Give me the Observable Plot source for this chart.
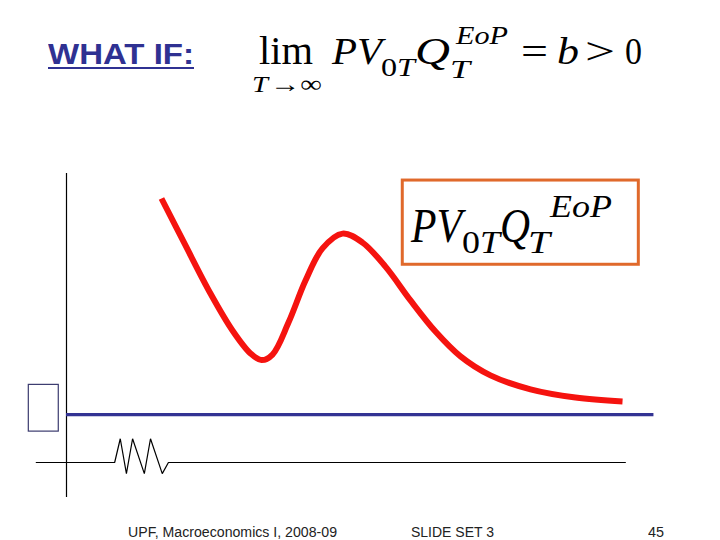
<!DOCTYPE html>
<html><head><meta charset="utf-8">
<script src="https://cdn.jsdelivr.net/npm/d3@7"></script>
<script src="https://cdn.jsdelivr.net/npm/@observablehq/plot@0.6"></script>
<style>
body{margin:0;background:#fff;}
#page{position:relative;width:720px;height:540px;overflow:hidden;background:#fff;}
#head{height:110px;}
#foot{height:30px;}
.t{position:absolute;white-space:nowrap;transform-origin:0 0;line-height:1.2;}
.serif{font-family:"Liberation Serif","DejaVu Serif",serif;color:#000;}
.sans{font-family:"Liberation Sans",Arial,sans-serif;}
.mk{display:inline-block;width:0;height:0;vertical-align:baseline;}
</style></head>
<body>
<div id="page"><div id="head"></div><div id="chart"></div><div id="foot"></div></div>
<script>
// ---- data ----
// red curve PV_0T * Q_T^EoP as a function of T
const curveT = [16.96, 21.25, 25.71, 29.64, 32.86, 34.82, 36.79, 39.64, 42.68, 45.71, 49.29, 52.86, 56.96, 61.43, 65.89, 70.36, 75.71, 82.86, 90.89, 99.29];
const curveV = [100.0, 82.2, 64.0, 50.0, 41.3, 38.8, 40.9, 53.0, 68.9, 81.1, 86.7, 83.3, 74.2, 61.4, 49.6, 40.2, 33.0, 27.7, 24.6, 23.1];
// horizontal level b (blue line)
const bLevel = 18.1;
const bRangeT = [0, 104.9];
// horizontal axis with broken-axis zigzag
const axisT = [-5.4, 8.6, 9.6, 10.7, 11.8, 13.9, 15.0, 17.1, 18.2, 99.8];
const axisV = [0, 0, 9.0, -4.2, 9.0, -4.2, 9.0, -4.2, 0, 0];
// vertical axis extent
const vAxisV = [-13.3, 109.5];
// small box on the left of the axis
const smallBoxT = [-6.73, -1.38];
const smallBoxV = [11.7, 29.4];
// label box around the formula
const labelBoxT = [60.05, 102.2];
const labelBoxV = [74.9, 106.8];

const curve = curveT.map((t, i) => ({T: t, V: curveV[i]}));
const axis = axisT.map((t, i) => ({T: t, V: axisV[i]}));

const plot = Plot.plot({
  width: 720, height: 400,
  margin: 0,
  style: {background: "#fff", overflow: "visible"},
  x: {domain: [0, 100], range: [66, 626], axis: null},
  y: {domain: [0, 100], range: [352, 88], axis: null},
  marks: [
    Plot.ruleX([0], {y1: vAxisV[0], y2: vAxisV[1], stroke: "#000", strokeWidth: 1.2}),
    Plot.line(axis, {x: "T", y: "V", stroke: "#000", strokeWidth: 1.2, strokeLinejoin: "miter"}),
    Plot.rect([{}], {x1: smallBoxT[0], x2: smallBoxT[1], y1: smallBoxV[0], y2: smallBoxV[1], fill: "none", stroke: "#3a3a6e", strokeWidth: 1.2}),
    Plot.ruleY([bLevel], {x1: bRangeT[0], x2: bRangeT[1], stroke: "#333393", strokeWidth: 3.2}),
    Plot.rect([{}], {x1: labelBoxT[0], x2: labelBoxT[1], y1: labelBoxV[0], y2: labelBoxV[1], fill: "none", stroke: "#e0692b", strokeWidth: 3}),
    Plot.line(curve, {x: "T", y: "V", stroke: "#f5130f", strokeWidth: 6, curve: "catmull-rom", strokeLinecap: "butt"})
  ]
});
document.getElementById("chart").appendChild(plot);

// ---- text pieces (page coordinates: left, right, baseline) ----
const page = document.getElementById("page");
function put(html, x0, x1, base, size, cls, extra) {
  const s = document.createElement("span");
  s.className = "t " + cls;
  s.style.fontSize = size + "px";
  s.style.left = x0 + "px";
  s.style.top = "0px";
  if (extra) Object.assign(s.style, extra);
  s.innerHTML = html + '<span class="mk"></span>';
  page.appendChild(s);
  const r = s.getBoundingClientRect();
  const m = s.querySelector(".mk").getBoundingClientRect();
  s.style.top = (base - (m.top - r.top)) + "px";
  if (x1 != null) {
    const k = (x1 - x0) / r.width;
    s.style.transform = "scaleX(" + k + ")";
  }
  return s;
}
// title
put("WHAT IF:", 48, 194, 64, 29, "sans", {fontWeight: "bold", color: "#2f3192", textDecoration: "underline", textDecorationThickness: "2px", textUnderlineOffset: "3px"});
// headline formula
const head = [
  ["lim", 259, 313, 64, 40],
  ["<i>T</i>", 252, 268, 92, 24],
  ["→∞", 270, 322, 92, 24],
  ["<i>PV</i>", 332, 382, 64, 38],
  ["0<i>T</i>", 381, 415, 76, 25],
  ["<i>Q</i>", 415, 450, 64, 38],
  ["<i>T</i>", 450, 470, 78, 25],
  ["<i>EoP</i>", 456, 508, 44, 25],
  ["=", 521, 548, 64, 38],
  ["<i>b</i>", 557, 579, 64, 38],
  [">", 585, 615, 64, 38],
  ["0", 625, 642, 64, 38]
];
head.forEach(p => put(p[0], p[1], p[2], p[3], p[4], "serif"));
// boxed formula
const boxed = [
  ["<i>PV</i>", 411, 462, 242, 48],
  ["0<i>T</i>", 462, 500, 253, 31],
  ["<i>Q</i>", 500, 530, 242, 48],
  ["<i>T</i>", 528, 550, 253, 31],
  ["<i>EoP</i>", 550, 612, 217, 31]
];
boxed.forEach(p => put(p[0], p[1], p[2], p[3], p[4], "serif"));
// footer
put("UPF, Macroeconomics I, 2008-09", 128, 337, 537, 14, "sans", {color: "#222"});
put("SLIDE SET 3", 411, 494, 537, 14, "sans", {color: "#222"});
put("45", 648, 664, 537, 14, "sans", {color: "#222"});
</script>
</body></html>
